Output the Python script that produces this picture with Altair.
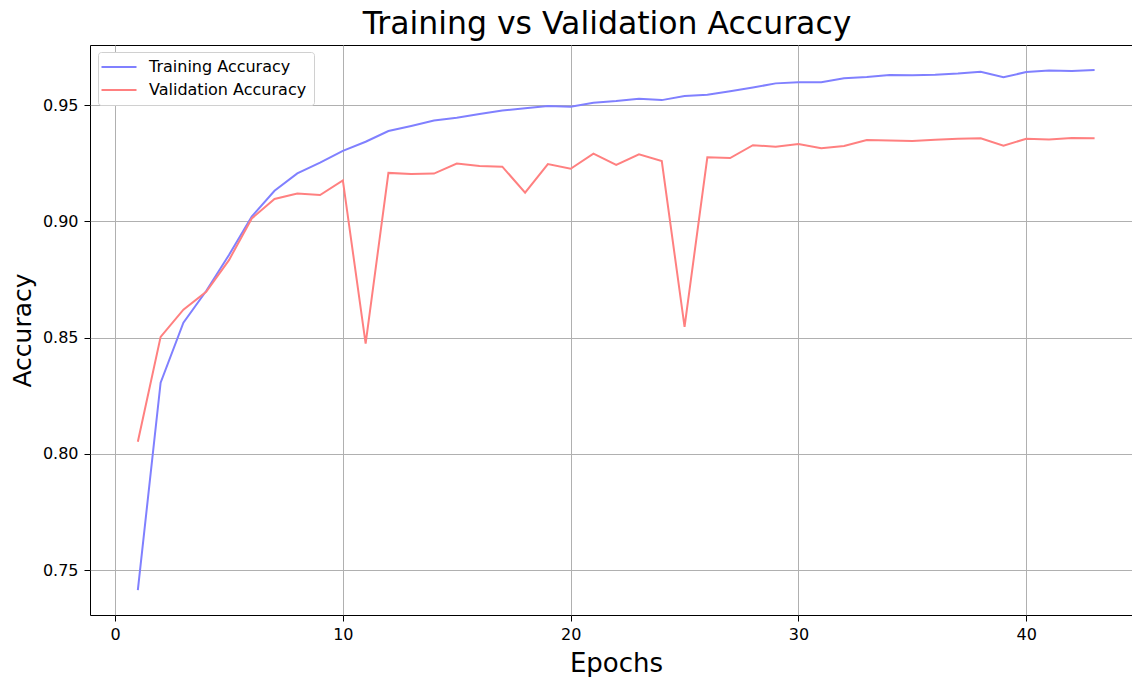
import altair as alt
import pandas as pd

epochs = list(range(1, 44))
train_acc = [0.7414, 0.8306, 0.8564, 0.8700, 0.8855, 0.9020, 0.9131, 0.9206, 0.9252, 0.9303,
             0.9342, 0.9388, 0.9410, 0.9433, 0.9445, 0.9461, 0.9476, 0.9486, 0.9496, 0.9493,
             0.9510, 0.9517, 0.9527, 0.9521, 0.9539, 0.9544, 0.9559, 0.9575, 0.9593, 0.9598,
             0.9598, 0.9615, 0.9620, 0.9629, 0.9628, 0.9630, 0.9635, 0.9643, 0.9619, 0.9642,
             0.9648, 0.9646, 0.9650]
val_acc = [0.8052, 0.8503, 0.8620, 0.8697, 0.8833, 0.9012, 0.9096, 0.9119, 0.9113, 0.9176,
           0.8474, 0.9208, 0.9203, 0.9205, 0.9248, 0.9238, 0.9235, 0.9123, 0.9246, 0.9226,
           0.9291, 0.9242, 0.9288, 0.9259, 0.8546, 0.9275, 0.9272, 0.9327, 0.9321, 0.9332,
           0.9314, 0.9324, 0.9349, 0.9347, 0.9345, 0.9351, 0.9355, 0.9357, 0.9325, 0.9355,
           0.9352, 0.9358, 0.9357]
series_names = ["Training Accuracy", "Validation Accuracy"]
series_colors = ["#8080ff", "#ff8080"]
x_ticks = [0, 10, 20, 30, 40]
y_ticks = [0.75, 0.80, 0.85, 0.90, 0.95]
chart_title = "Training vs Validation Accuracy"

rows = []
for e, t, v in zip(epochs, train_acc, val_acc):
    rows.append({"Epoch": e, "Accuracy": t, "Series": series_names[0]})
    rows.append({"Epoch": e, "Accuracy": v, "Series": series_names[1]})
df = pd.DataFrame(rows)

FONT = "DejaVu Sans"
W, H = 1042, 570
PX_PER_EPOCH = 22.78

lines = alt.Chart(df).mark_line(strokeWidth=2).encode(
    x=alt.X("Epoch:Q",
            scale=alt.Scale(domain=[-1.1, -1.1 + W / PX_PER_EPOCH], nice=False, zero=False),
            axis=alt.Axis(values=x_ticks, title="Epochs", format="d", titleX=526)),
    y=alt.Y("Accuracy:Q",
            scale=alt.Scale(domain=[0.7307, 0.9758], nice=False, zero=False),
            axis=alt.Axis(values=y_ticks, title="Accuracy", format=".2f")),
    color=alt.Color("Series:N",
                    scale=alt.Scale(domain=series_names, range=series_colors),
                    legend=alt.Legend(title=None, orient="none", legendX=8, legendY=7,
                                      symbolType="M-3.5,0L3.5,0", symbolSize=100,
                                      symbolStrokeWidth=2, symbolOffset=6,
                                      labelFontSize=16,
                                      labelFont=FONT, labelColor="black",
                                      fillColor="white", strokeColor="#d0d0d0",
                                      padding=7, cornerRadius=3, rowPadding=7,
                                      labelOffset=22)),
)

title_df = pd.DataFrame({"t": [chart_title]})
title = alt.Chart(title_df).mark_text(
    font=FONT, fontSize=31.5, color="black", align="center", baseline="alphabetic"
).encode(text="t:N", x=alt.value(517), y=alt.value(-11))

chart = alt.layer(lines, title).properties(
    width=W, height=H,
    autosize=alt.AutoSizeParams(type="none"),
    padding={"left": 82, "top": 37, "right": 0, "bottom": 66},
).configure_view(
    stroke="black", strokeWidth=1
).configure_axis(
    grid=True, gridColor="#b0b0b0", gridWidth=1,
    domain=False, tickColor="black", tickSize=6, tickWidth=1,
    labelFont=FONT, labelFontSize=16, labelColor="black",
    titleFont=FONT, titleFontSize=26, titleFontWeight="normal", titleColor="black",
).configure_axisX(
    labelPadding=5, titlePadding=8
).configure_axisY(
    labelPadding=6, titlePadding=7, titleFontSize=25
)

chart.save("out.html", embed_options={"renderer": "svg", "actions": False})
